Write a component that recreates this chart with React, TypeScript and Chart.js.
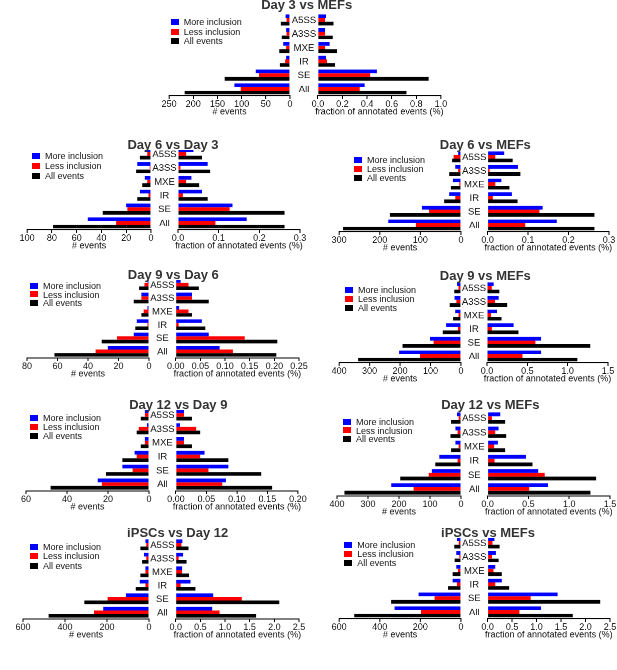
import React, { useEffect, useRef } from 'react';
import { Chart, registerables } from 'chart.js';

Chart.register(...registerables);

const FONT = "'Liberation Sans', Arial, sans-serif";

const categories = ['A5SS', 'A3SS', 'MXE', 'IR', 'SE', 'All'];
const legendLabels = ['More inclusion', 'Less inclusion', 'All events'];
const seriesColors = ['#0000ff', '#ff0000', '#000000'];

// Day 3 vs MEFs
const d3mEventsMore = [9, 8, 14, 8, 71, 115];
const d3mEventsLess = [7, 7, 8, 10, 64, 102];
const d3mEventsAll = [19, 17, 22, 21, 135, 218];
const d3mFracMore = [0.068, 0.06, 0.095, 0.068, 0.48, 0.38];
const d3mFracLess = [0.06, 0.06, 0.06, 0.073, 0.425, 0.34];
const d3mFracAll = [0.127, 0.12, 0.155, 0.14, 0.9, 0.72];
const d3mEventTicks = [0, 50, 100, 150, 200, 250];
const d3mFracTicks = ['0.0', '0.2', '0.4', '0.6', '0.8', '1.0'];

// Day 6 vs Day 3
const d6d3EventsMore = [5, 11, 5, 9, 20, 51];
const d6d3EventsLess = [3, 1, 3, 2, 19, 28];
const d6d3EventsAll = [9, 12, 7, 11, 39, 79];
const d6d3FracMore = [0.038, 0.073, 0.033, 0.059, 0.134, 0.169];
const d6d3FracLess = [0.02, 0.006, 0.02, 0.012, 0.127, 0.092];
const d6d3FracAll = [0.059, 0.079, 0.052, 0.073, 0.262, 0.262];
const d6d3EventTicks = [0, 20, 40, 60, 80, 100];
const d6d3FracTicks = ['0.0', '0.1', '0.2', '0.3'];

// Day 6 vs MEFs
const d6mEventsMore = [7, 14, 20, 29, 96, 179];
const d6mEventsLess = [18, 7, 4, 14, 78, 111];
const d6mEventsAll = [22, 29, 25, 41, 175, 290];
const d6mFracMore = [0.041, 0.075, 0.034, 0.06, 0.136, 0.171];
const d6mFracLess = [0.019, 0.005, 0.019, 0.013, 0.128, 0.093];
const d6mFracAll = [0.062, 0.081, 0.054, 0.074, 0.264, 0.264];
const d6mEventTicks = [0, 100, 200, 300];
const d6mFracTicks = ['0.0', '0.1', '0.2', '0.3'];

// Day 9 vs Day 6
const d9d6EventsMore = [1, 5, 1, 8, 10, 27];
const d9d6EventsLess = [3, 5, 3.5, 1, 21, 35];
const d9d6EventsAll = [6.5, 10, 5, 9, 31, 62];
const d9d6FracMore = [0.01, 0.033, 0.007, 0.053, 0.067, 0.089];
const d9d6FracLess = [0.026, 0.033, 0.026, 0.006, 0.14, 0.116];
const d9d6FracAll = [0.047, 0.067, 0.033, 0.06, 0.206, 0.204];
const d9d6EventTicks = [0, 20, 40, 60, 80];
const d9d6FracTicks = ['0.00', '0.05', '0.10', '0.15', '0.20', '0.25'];

// Day 9 vs MEFs
const d9mEventsMore = [13, 21, 19, 49, 101, 203];
const d9mEventsLess = [8, 15, 8, 10, 90, 134];
const d9mEventsAll = [22, 37, 26, 60, 192, 337];
const d9mFracMore = [0.083, 0.145, 0.124, 0.33, 0.67, 0.67];
const d9mFracLess = [0.06, 0.1, 0.05, 0.06, 0.6, 0.44];
const d9mFracAll = [0.153, 0.25, 0.18, 0.39, 1.28, 1.12];
const d9mEventTicks = [0, 100, 200, 300, 400];
const d9mFracTicks = ['0.0', '0.5', '1.0', '1.5'];

// Day 12 vs Day 9
const d12d9EventsMore = [2, 1, 2, 7, 13, 25];
const d12d9EventsLess = [2, 5, 2, 6, 8, 23];
const d12d9EventsAll = [4, 6, 4, 13, 21, 48];
const d12d9FracMore = [0.0135, 0.0065, 0.0135, 0.047, 0.086, 0.082];
const d12d9FracLess = [0.0135, 0.0335, 0.0135, 0.04, 0.0535, 0.076];
const d12d9FracAll = [0.026, 0.04, 0.026, 0.086, 0.14, 0.158];
const d12d9EventTicks = [0, 20, 40, 60];
const d12d9FracTicks = ['0.00', '0.05', '0.10', '0.15', '0.20'];

// Day 12 vs MEFs
const d12mEventsMore = [13, 18, 18, 70, 94, 225];
const d12mEventsLess = [7.5, 11, 7.5, 11, 104, 153];
const d12mEventsAll = [32, 34, 32, 83, 196, 376];
const d12mFracMore = [0.155, 0.134, 0.126, 0.47, 0.62, 0.74];
const d12mFracLess = [0.053, 0.093, 0.08, 0.085, 0.7, 0.51];
const d12mFracAll = [0.215, 0.228, 0.215, 0.55, 1.33, 1.26];
const d12mEventTicks = [0, 100, 200, 300, 400];
const d12mFracTicks = ['0.0', '0.5', '1.0', '1.5'];

// iPSCs vs Day 12
const ipd12EventsMore = [17, 24, 17, 44, 110, 218];
const ipd12EventsLess = [13, 13, 17, 17, 197, 262];
const ipd12EventsAll = [41, 33, 41, 63, 308, 478];
const ipd12FracMore = [0.135, 0.15, 0.13, 0.3, 0.76, 0.74];
const ipd12FracLess = [0.115, 0.06, 0.13, 0.1, 1.34, 0.89];
const ipd12FracAll = [0.26, 0.22, 0.27, 0.4, 2.1, 1.63];
const ipd12EventTicks = [0, 200, 400, 600];
const ipd12FracTicks = ['0.0', '0.5', '1.0', '1.5', '2.0', '2.5'];

// iPSCs vs MEFs
const ipmEventsMore = [20, 23, 23, 41, 209, 327];
const ipmEventsLess = [11, 8, 15, 20, 130, 196];
const ipmEventsAll = [33, 31, 41, 64, 344, 525];
const ipmFracMore = [0.14, 0.17, 0.156, 0.29, 1.43, 1.09];
const ipmFracLess = [0.1, 0.09, 0.12, 0.156, 0.88, 0.65];
const ipmFracAll = [0.245, 0.225, 0.29, 0.44, 2.3, 1.74];
const ipmEventTicks = [0, 200, 400, 600];
const ipmFracTicks = ['0.0', '0.5', '1.0', '1.5', '2.0', '2.5'];

// layout (page pixels): axis ends, plot top / axis line, title centre, legend
type Geo = {
  x0: number; zl: number; zr: number; x1: number;
  top: number; bottom: number;
  tx: number; ty: number;
  lx: number; ly: number; ls: number;
};

type Panel = {
  title: string;
  events: number[][];
  fracs: number[][];
  eventTicks: number[];
  fracTicks: string[];
  geo: Geo;
};

const panels: Panel[] = [
  {
    title: 'Day 3 vs MEFs',
    events: [d3mEventsMore, d3mEventsLess, d3mEventsAll],
    fracs: [d3mFracMore, d3mFracLess, d3mFracAll],
    eventTicks: d3mEventTicks, fracTicks: d3mFracTicks,
    geo: { x0: 169.3, zl: 290, zr: 317.7, x1: 440.7, top: 12.8, bottom: 95.6, tx: 306.7, ty: 5, lx: 170.7, ly: 22.3, ls: 9.5 },
  },
  {
    title: 'Day 6 vs Day 3',
    events: [d6d3EventsMore, d6d3EventsLess, d6d3EventsAll],
    fracs: [d6d3FracMore, d6d3FracLess, d6d3FracAll],
    eventTicks: d6d3EventTicks, fracTicks: d6d3FracTicks,
    geo: { x0: 27, zl: 150.7, zr: 177.7, x1: 300, top: 147.4, bottom: 229.9, tx: 173, ty: 145, lx: 32, ly: 156, ls: 9.8 },
  },
  {
    title: 'Day 6 vs MEFs',
    events: [d6mEventsMore, d6mEventsLess, d6mEventsAll],
    fracs: [d6mFracMore, d6mFracLess, d6mFracAll],
    eventTicks: d6mEventTicks, fracTicks: d6mFracTicks,
    geo: { x0: 339.3, zl: 460.7, zr: 487.3, x1: 609, top: 150.3, bottom: 232, tx: 485.3, ty: 145, lx: 354, ly: 160, ls: 9.2 },
  },
  {
    title: 'Day 9 vs Day 6',
    events: [d9d6EventsMore, d9d6EventsLess, d9d6EventsAll],
    fracs: [d9d6FracMore, d9d6FracLess, d9d6FracAll],
    eventTicks: d9d6EventTicks, fracTicks: d9d6FracTicks,
    geo: { x0: 26.7, zl: 149.3, zr: 176, x1: 299.3, top: 277.6, bottom: 358.4, tx: 173.3, ty: 275, lx: 30, ly: 285.7, ls: 8.8 },
  },
  {
    title: 'Day 9 vs MEFs',
    events: [d9mEventsMore, d9mEventsLess, d9mEventsAll],
    fracs: [d9mFracMore, d9mFracLess, d9mFracAll],
    eventTicks: d9mEventTicks, fracTicks: d9mFracTicks,
    geo: { x0: 339.3, zl: 460.7, zr: 486.7, x1: 607.7, top: 280.9, bottom: 362.8, tx: 485.3, ty: 275.7, lx: 345, ly: 289.7, ls: 9.3 },
  },
  {
    title: 'Day 12 vs Day 9',
    events: [d12d9EventsMore, d12d9EventsLess, d12d9EventsAll],
    fracs: [d12d9FracMore, d12d9FracLess, d12d9FracAll],
    eventTicks: d12d9EventTicks, fracTicks: d12d9FracTicks,
    geo: { x0: 26, zl: 149.3, zr: 176, x1: 298, top: 407.8, bottom: 491, tx: 178.3, ty: 404.7, lx: 30, ly: 418, ls: 9.2 },
  },
  {
    title: 'Day 12 vs MEFs',
    events: [d12mEventsMore, d12mEventsLess, d12mEventsAll],
    fracs: [d12mFracMore, d12mFracLess, d12mFracAll],
    eventTicks: d12mEventTicks, fracTicks: d12mFracTicks,
    geo: { x0: 336.7, zl: 460.7, zr: 487.3, x1: 610, top: 411, bottom: 496, tx: 490.3, ty: 405.3, lx: 343, ly: 421.7, ls: 8.8 },
  },
  {
    title: 'iPSCs vs Day 12',
    events: [ipd12EventsMore, ipd12EventsLess, ipd12EventsAll],
    fracs: [ipd12FracMore, ipd12FracLess, ipd12FracAll],
    eventTicks: ipd12EventTicks, fracTicks: ipd12FracTicks,
    geo: { x0: 23, zl: 149.3, zr: 176, x1: 299.3, top: 537.5, bottom: 619, tx: 177.7, ty: 533.3, lx: 30, ly: 547.3, ls: 9.2 },
  },
  {
    title: 'iPSCs vs MEFs',
    events: [ipmEventsMore, ipmEventsLess, ipmEventsAll],
    fracs: [ipmFracMore, ipmFracLess, ipmFracAll],
    eventTicks: ipmEventTicks, fracTicks: ipmFracTicks,
    geo: { x0: 339, zl: 460.7, zr: 487.3, x1: 610, top: 536.4, bottom: 619.2, tx: 488, ty: 533.3, lx: 344.3, ly: 544.7, ls: 9.3 },
  },
];

const PAD_T = 2;
const PAD_SIDE = 12;
const PAD_ZERO = 6;
const AXIS_H = 14; // tick 3 + label 9 + 2*1 padding
const PAD_B = 14; // room for the axis title drawn by the plugin

// axis title under the x scale, and category names in the gap of the right chart
const sideText = {
  id: 'sideText',
  afterDraw(chart: any, _args: any, opts: any) {
    const { ctx, chartArea } = chart;
    const xs = chart.scales.x;
    ctx.save();
    ctx.fillStyle = '#111';
    ctx.textAlign = 'center';
    ctx.textBaseline = 'middle';
    ctx.font = `9px ${FONT}`;
    ctx.fillText(opts.axisTitle, (chartArea.left + chartArea.right) / 2, xs.top + 16);
    if (opts.categories) {
      const ys = chart.scales.y;
      ctx.font = `9.5px ${FONT}`;
      opts.categories.forEach((c: string, i: number) => {
        ctx.fillText(c, chartArea.left / 2, ys.getPixelForValue(i) + 0.5);
      });
    }
    ctx.restore();
  },
};

type HalfProps = {
  side: 'left' | 'right';
  series: number[][];
  ticks: number[];
  tickLabels: string[];
  geo: Geo;
};

const HalfChart: React.FC<HalfProps> = ({ side, series, ticks, tickLabels, geo }) => {
  const chartRef = useRef<HTMLCanvasElement>(null);
  const isLeft = side === 'left';

  const left = isLeft ? geo.x0 - PAD_SIDE : geo.zl;
  const width = isLeft
    ? geo.zl - geo.x0 + PAD_SIDE + PAD_ZERO
    : geo.x1 - geo.zl + PAD_SIDE;
  const top = geo.top - PAD_T;
  const height = geo.bottom - geo.top + PAD_T + AXIS_H + PAD_B;

  useEffect(() => {
    if (!chartRef.current) return;
    const chartInstance = new Chart(chartRef.current, {
      type: 'bar',
      data: {
        labels: categories,
        datasets: series.map((d, i) => ({
          label: legendLabels[i],
          data: d,
          backgroundColor: seriesColors[i],
          borderWidth: 0,
          barPercentage: 1.0,
          categoryPercentage: 0.8,
        })),
      },
      options: {
        indexAxis: 'y',
        responsive: false,
        animation: false,
        devicePixelRatio: 2,
        layout: {
          padding: isLeft
            ? { left: PAD_SIDE, right: PAD_ZERO, top: PAD_T, bottom: PAD_B }
            : { left: geo.zr - geo.zl, right: PAD_SIDE, top: PAD_T, bottom: PAD_B },
        },
        plugins: {
          legend: { display: false },
          tooltip: { enabled: false },
          sideText: {
            axisTitle: isLeft ? '# events' : 'fraction of annotated events (%)',
            categories: isLeft ? null : categories,
          },
        } as any,
        scales: {
          y: { display: false },
          x: {
            type: 'linear',
            reverse: isLeft,
            min: 0,
            max: ticks[ticks.length - 1],
            afterBuildTicks: (s: any) => {
              s.ticks = ticks.map((v) => ({ value: v }));
            },
            ticks: {
              font: { family: FONT, size: 9, lineHeight: 1 },
              color: '#111',
              padding: 1,
              maxRotation: 0,
              autoSkip: false,
              callback: (_v: any, i: number) => tickLabels[i],
            },
            grid: {
              display: true,
              drawOnChartArea: false,
              drawTicks: true,
              tickLength: 3,
              color: '#000',
            },
            border: { display: true, color: '#000', width: 1 },
          },
        },
      },
      plugins: [sideText],
    });

    return () => {
      chartInstance.destroy();
    };
  }, [series, ticks, tickLabels, geo, isLeft]);

  return (
    <canvas
      ref={chartRef}
      width={width}
      height={height}
      style={{ position: 'absolute', left, top, width, height }}
    />
  );
};

const Legend: React.FC<{ geo: Geo }> = ({ geo }) => (
  <div
    style={{
      position: 'absolute',
      left: geo.lx,
      top: geo.ly - geo.ls / 2,
      font: `9px ${FONT}`,
      color: '#111',
      whiteSpace: 'nowrap',
    }}
  >
    {legendLabels.map((l, i) => (
      <div key={l} style={{ display: 'flex', alignItems: 'center', height: geo.ls }}>
        <span
          style={{
            display: 'inline-block',
            width: 8,
            height: 6,
            background: seriesColors[i],
            marginRight: 5,
          }}
        />
        {l}
      </div>
    ))}
  </div>
);

const PanelView: React.FC<{ p: Panel }> = ({ p }) => (
  <>
    <HalfChart side="left" series={p.events} ticks={p.eventTicks} tickLabels={p.eventTicks.map(String)} geo={p.geo} />
    <HalfChart
      side="right"
      series={p.fracs}
      ticks={p.fracTicks.map(parseFloat)}
      tickLabels={p.fracTicks}
      geo={p.geo}
    />
    <Legend geo={p.geo} />
    <div
      style={{
        position: 'absolute',
        left: p.geo.tx,
        top: p.geo.ty,
        transform: 'translate(-50%, -50%)',
        font: `bold 13px ${FONT}`,
        lineHeight: '10px',
        color: '#333',
        background: '#fff',
        padding: '0 2px',
        whiteSpace: 'nowrap',
      }}
    >
      {p.title}
    </div>
  </>
);

export default function App() {
  return (
    <div
      style={{
        position: 'absolute',
        left: 0,
        top: 0,
        width: 617,
        height: 670,
        background: '#fff',
        overflow: 'hidden',
      }}
    >
      {panels.map((p) => (
        <PanelView key={p.title} p={p} />
      ))}
    </div>
  );
}
